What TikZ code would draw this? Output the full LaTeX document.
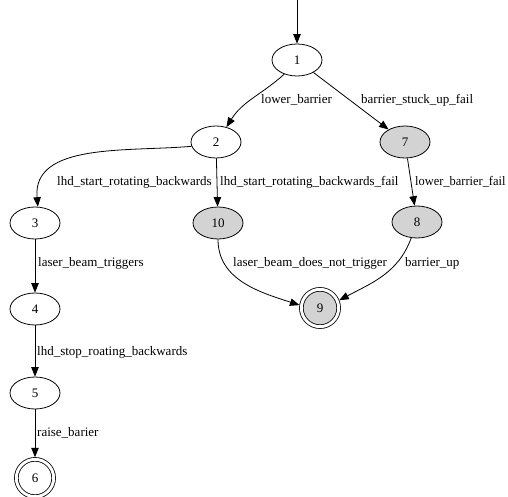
\documentclass[tikz,border=0pt]{standalone}
\usepackage{fontspec}
\setmainfont{Liberation Serif}
\usetikzlibrary{arrows.meta,shapes.geometric}
\definecolor{lgray}{RGB}{211,211,211}
\begin{document}
\begin{tikzpicture}[x=1pt,y=1pt,
  state/.style={ellipse,draw,line width=0.8pt,minimum width=50pt,minimum height=32pt,inner sep=0pt,font=\fontsize{13}{15}\selectfont},
  failstate/.style={state,fill=lgray},
  final/.style={circle,draw,line width=0.8pt,double=white,double distance=2.9pt,minimum size=37.3pt,inner sep=0pt,outer sep=2.1pt,font=\fontsize{13}{15}\selectfont},
  edge/.style={draw,line width=0.8pt,-{Triangle[length=9.5pt,width=7.5pt]}},
  lbl/.style={anchor=west,inner sep=0pt,font=\fontsize{13}{15}\selectfont}]
\useasboundingbox (0,0) rectangle (508,-497);
\node[state] (n1) at (297,-60) {1};
\node[state] (n2) at (216,-142) {2};
\node[failstate] (n7) at (405,-142) {7};
\node[state] (n3) at (35,-223) {3};
\node[failstate] (n10) at (218,-223) {10};
\node[failstate] (n8) at (417,-222) {8};
\node[state] (n4) at (35,-309) {4};
\node[final,fill=lgray] (n9) at (320,-308) {9};
\node[state] (n5) at (35,-393) {5};
\node[final] (n6) at (35,-478) {6};
\coordinate (start) at (297,0);
\draw[edge] (start) -- (n1);
\draw[edge] (n1.228) to[out=222,in=58] (n2.55);
\draw[edge] (n1) -- (n7);
\draw[edge] (n2.190) to[out=185,in=95] (n3.80);
\draw[edge] (n2) -- (n10);
\draw[edge] (n7) -- (n8);
\draw[edge] (n3) -- (n4);
\draw[edge] (n4) -- (n5);
\draw[edge] (n5) -- (n6);
\draw[edge] (n10.270) to[out=270,in=162] (n9.172);
\draw[edge] (n8.250) to[out=250,in=28] (n9.22);
\node[lbl] (l1) at (261,-100) {lower\_barrier};
\node[lbl] (l2) at (361,-100) {barrier\_stuck\_up\_fail};
\node[lbl] (l3) at (57,-182) {lhd\_start\_rotating\_backwards};
\node[lbl] (l4) at (220,-182) {lhd\_start\_rotating\_backwards\_fail};
\node[lbl,xscale=0.955] (l5) at (415,-182) {lower\_barrier\_fail};
\node[lbl] (l6) at (38,-263) {laser\_beam\_triggers};
\node[lbl] (l7) at (233,-263) {laser\_beam\_does\_not\_trigger};
\node[lbl] (l8) at (405,-263) {barrier\_up};
\node[lbl] (l9) at (37,-352) {lhd\_stop\_roating\_backwards};
\node[lbl] (l10) at (37,-433) {raise\_barier};
\end{tikzpicture}
\end{document}
